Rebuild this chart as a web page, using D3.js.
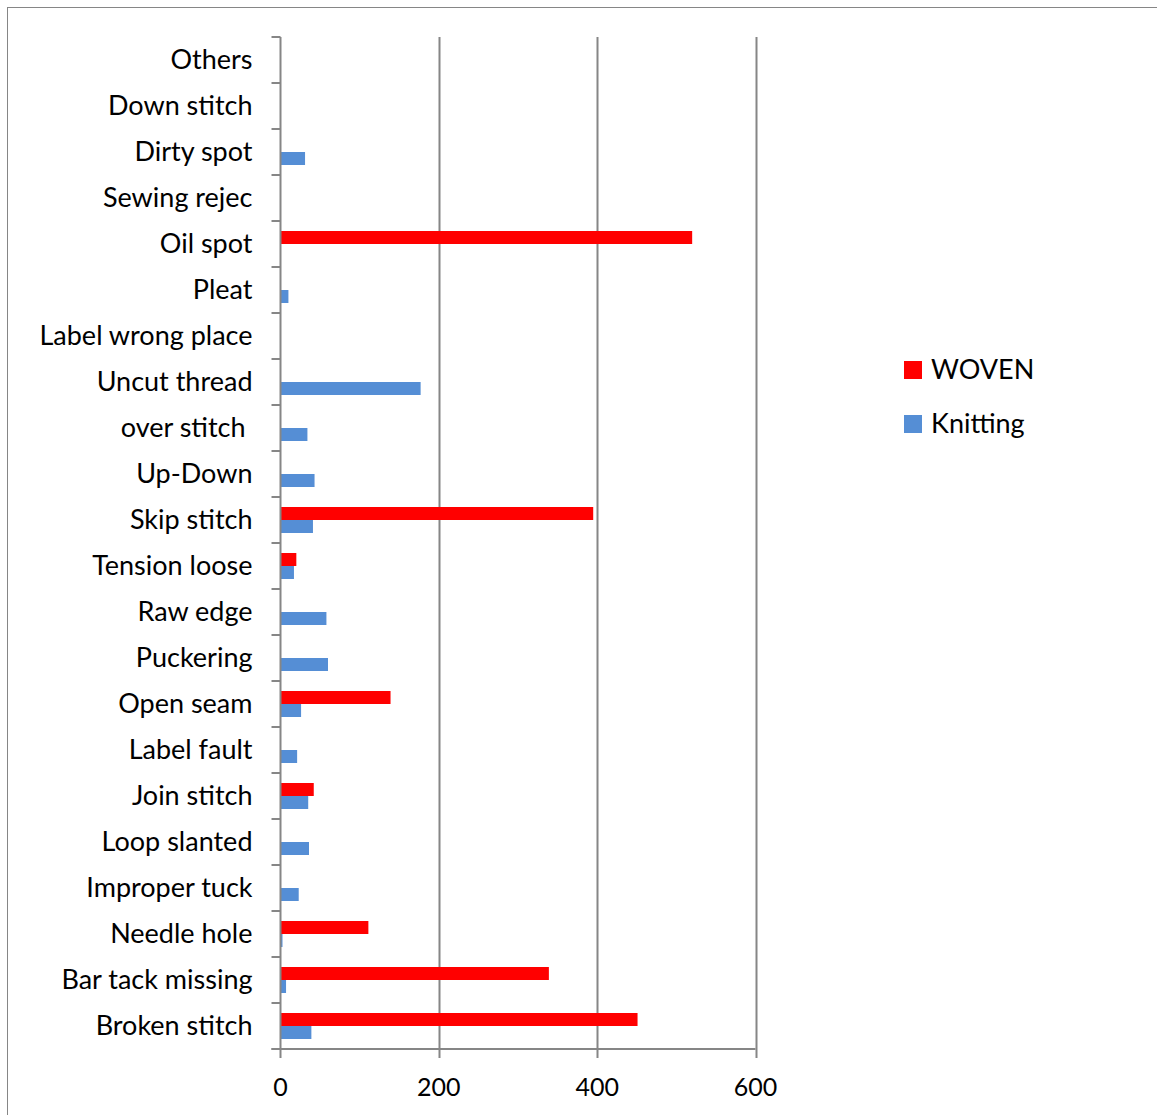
<!DOCTYPE html>
<html><head><meta charset="utf-8">
<script src="https://cdn.jsdelivr.net/npm/d3@7"></script>
<style>body{margin:0;background:#fff}svg{display:block}text{font-family:Lato,"Open Sans",sans-serif;fill:#000}</style>
</head><body><div id="c"></div>
<script>
const categories = ["Broken stitch","Bar tack missing","Needle hole","Improper tuck","Loop slanted","Join stitch","Label fault","Open seam","Puckering","Raw edge","Tension loose","Skip stitch","Up-Down","over stitch ","Uncut thread","Label wrong place","Pleat","Oil spot","Sewing rejec","Dirty spot","Down stitch","Others"];
const woven =    [451,339,111,0,0,42,0,139,0,0,20,395,0,0,0,0,0,520,0,0,0,0];
const knitting = [39,7,2.5,23,36,35,21,26,60,58,17,41,43,34,177,0,10,0,0,31,0,0];
const seriesNames = ["WOVEN","Knitting"];
const seriesColors = ["#FF0000","#558ED5"];
const xTicks = [0,200,400,600];

(function(){
const W=1157,H=1115;
const svg=d3.select("#c").append("svg").attr("width",W).attr("height",H);
svg.append("rect").attr("x",7.5).attr("y",7.5).attr("width",W+20).attr("height",H+20).attr("fill","none").attr("stroke","#868686").attr("stroke-width",1);

const x0=280.5, yTop=37, yBot=1049;
const x=d3.scaleLinear().domain([0,600]).range([x0,x0+475]);
const y=d3.scaleBand().domain(categories.slice().reverse()).range([yTop,yBot]).paddingInner(0).paddingOuter(0);
const bandH=y.bandwidth();
const barH=bandH*13/46;
const gray="#868686";

svg.append("g").selectAll("line").data(xTicks.slice(1)).join("line")
  .attr("x1",d=>Math.round(x(d))+0.5).attr("x2",d=>Math.round(x(d))+0.5)
  .attr("y1",yTop).attr("y2",yBot+9).attr("stroke",gray).attr("stroke-width",2);

const rows=categories.map((c,i)=>({c,w:woven[i],k:knitting[i]}));
const g=svg.append("g");
g.selectAll(".w").data(rows.filter(r=>r.w>0)).join("rect")
  .attr("x",x(0)).attr("y",d=>y(d.c)+bandH/2-barH).attr("width",d=>x(d.w)-x(0)).attr("height",barH).attr("fill",seriesColors[0]);
g.selectAll(".k").data(rows.filter(r=>r.k>0)).join("rect")
  .attr("x",x(0)).attr("y",d=>y(d.c)+bandH/2).attr("width",d=>x(d.k)-x(0)).attr("height",barH).attr("fill",seriesColors[1]);

const ya=svg.append("g").attr("transform",`translate(${x0},0)`)
  .call(d3.axisLeft(y).tickSize(0).tickPadding(28));
ya.select(".domain").remove();
ya.selectAll("text").attr("font-size",27).style("white-space","pre").attr("font-family","Lato").attr("fill","#000");
svg.append("line").attr("x1",x0).attr("x2",x0).attr("y1",yTop).attr("y2",yBot+9).attr("stroke",gray).attr("stroke-width",2);
const bounds=d3.range(categories.length+1).map(i=>yTop+i*bandH);
svg.append("g").selectAll("line").data(bounds).join("line")
  .attr("x1",x0-9).attr("x2",x0).attr("y1",d=>d).attr("y2",d=>d).attr("stroke",gray).attr("stroke-width",2);

svg.append("line").attr("x1",x0-9).attr("x2",x(600)).attr("y1",yBot).attr("y2",yBot).attr("stroke",gray).attr("stroke-width",2);
svg.append("g").selectAll("text").data(xTicks).join("text")
  .attr("x",d=>x(d)).attr("y",1087).attr("dy","0.35em").attr("text-anchor","middle").attr("font-size",25).text(d=>d);

const lg=svg.append("g");
seriesNames.forEach((n,i)=>{
  const cy=370+i*54;
  lg.append("rect").attr("x",904).attr("y",cy-9).attr("width",18).attr("height",18).attr("fill",seriesColors[i]);
  lg.append("text").attr("x",931).attr("y",cy).attr("dy","0.35em").attr("font-size",27).text(n);
});
})();
</script></body></html>
